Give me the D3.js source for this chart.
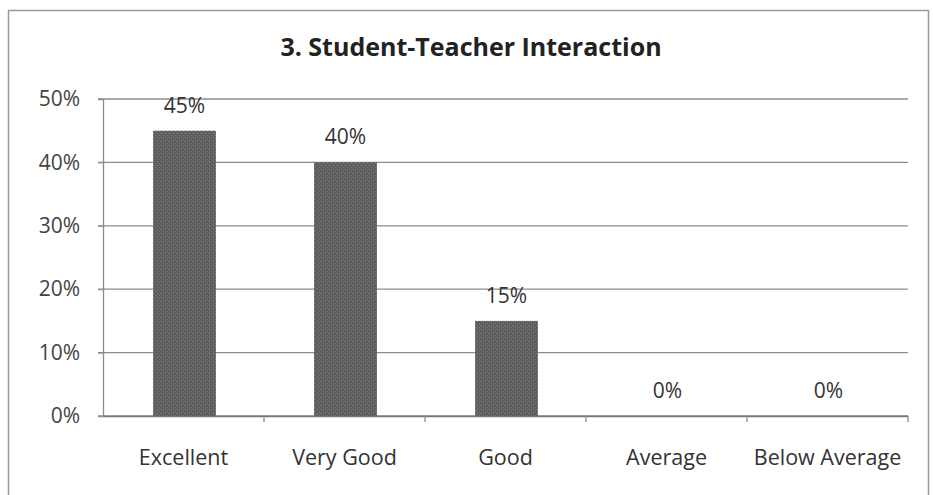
<!DOCTYPE html>
<html>
<head>
<meta charset="utf-8">
<script src="https://cdn.jsdelivr.net/npm/d3@7"></script>
<style>
  body { margin: 0; background: #fff; }
  svg { display: block; font-family: "Open Sans", sans-serif; }
</style>
</head>
<body>
<div id="chart"></div>
<script>
// chart data
const title = '3. Student-Teacher Interaction';
const categories = ['Excellent', 'Very Good', 'Good', 'Average', 'Below Average'];
const values = [45, 40, 15, 0, 0];
const yTicks = [0, 10, 20, 30, 40, 50];

const width = 933, height = 495;
const margin = {top: 99, right: 25, bottom: 79, left: 103};

const svg = d3.select('#chart')
  .append('svg')
    .attr('width', width)
    .attr('height', height);

// dotted grey fill, like the scanned bars
const defs = svg.append('defs');
const pat = defs.append('pattern')
    .attr('id', 'dots')
    .attr('width', 4)
    .attr('height', 4)
    .attr('patternUnits', 'userSpaceOnUse');
pat.append('rect').attr('width', 4).attr('height', 4).attr('fill', '#5e5e5e');
pat.append('rect').attr('x', 1).attr('y', 1).attr('width', 1).attr('height', 1).attr('fill', '#8a8a8a');
pat.append('rect').attr('x', 3).attr('y', 3).attr('width', 1).attr('height', 1).attr('fill', '#7a7a7a');

// outer chart border
svg.append('rect')
    .attr('x', 8.5)
    .attr('y', 10.5)
    .attr('width', 920)
    .attr('height', 500)
    .attr('fill', 'none')
    .attr('stroke', '#9a9a9a')
    .attr('stroke-width', 1.5);

svg.append('text')
    .attr('x', 471)
    .attr('y', 56)
    .attr('text-anchor', 'middle')
    .attr('font-size', 25)
    .attr('font-weight', 'bold')
    .attr('fill', '#222')
    .text(title);

const x = d3.scaleBand()
    .domain(categories)
    .range([margin.left, width - margin.right])
    .padding(0);

const y = d3.scaleLinear()
    .domain([0, 50])
    .range([height - margin.bottom, margin.top]);

const g = svg.append('g');

// gridlines
g.append('g')
  .selectAll('line')
  .data(yTicks)
  .join('line')
    .attr('x1', margin.left - 5)
    .attr('x2', width - margin.right)
    .attr('y1', d => y(d))
    .attr('y2', d => y(d))
    .attr('stroke', '#8c8c8c')
    .attr('stroke-width', 1.3);

// y axis
const yAxis = g.append('g')
    .attr('transform', `translate(${margin.left},0)`)
    .call(d3.axisLeft(y).tickValues(yTicks).tickFormat(d => d + '%').tickSize(5).tickPadding(18));
yAxis.select('.domain').attr('stroke', '#8c8c8c').attr('stroke-width', 1.3);
yAxis.selectAll('.tick line').attr('stroke', '#8c8c8c');
yAxis.selectAll('.tick text')
    .attr('font-size', 21)
    .attr('fill', '#444')
    .attr('font-family', '"Open Sans", sans-serif');

// x axis
const xAxis = g.append('g')
    .attr('transform', `translate(0,${y(0)})`)
    .call(d3.axisBottom(x).tickSize(0).tickPadding(34));
xAxis.select('.domain').attr('stroke', '#777').attr('stroke-width', 1.5);
xAxis.selectAll('.tick text')
    .attr('font-size', 21.5)
    .attr('fill', '#333')
    .attr('font-family', '"Open Sans", sans-serif');

// category boundary ticks
g.append('g')
  .selectAll('line')
  .data(categories)
  .join('line')
    .attr('x1', d => x(d) + x.bandwidth())
    .attr('x2', d => x(d) + x.bandwidth())
    .attr('y1', y(0))
    .attr('y2', y(0) + 6)
    .attr('stroke', '#8c8c8c')
    .attr('stroke-width', 1.3);

// bars
const barW = x.bandwidth() * 0.39;
g.append('g')
  .selectAll('rect')
  .data(values)
  .join('rect')
    .attr('x', (d, i) => x(categories[i]) + x.bandwidth() / 2 - barW / 2 + 1)
    .attr('y', d => y(d))
    .attr('width', barW)
    .attr('height', d => y(0) - y(d))
    .attr('fill', 'url(#dots)');

// value labels
g.append('g')
  .selectAll('text')
  .data(values)
  .join('text')
    .attr('x', (d, i) => x(categories[i]) + x.bandwidth() / 2 + 1)
    .attr('y', d => y(d) - 18)
    .attr('text-anchor', 'middle')
    .attr('font-size', 21)
    .attr('fill', '#333')
    .text(d => d + '%');
</script>
</body>
</html>
